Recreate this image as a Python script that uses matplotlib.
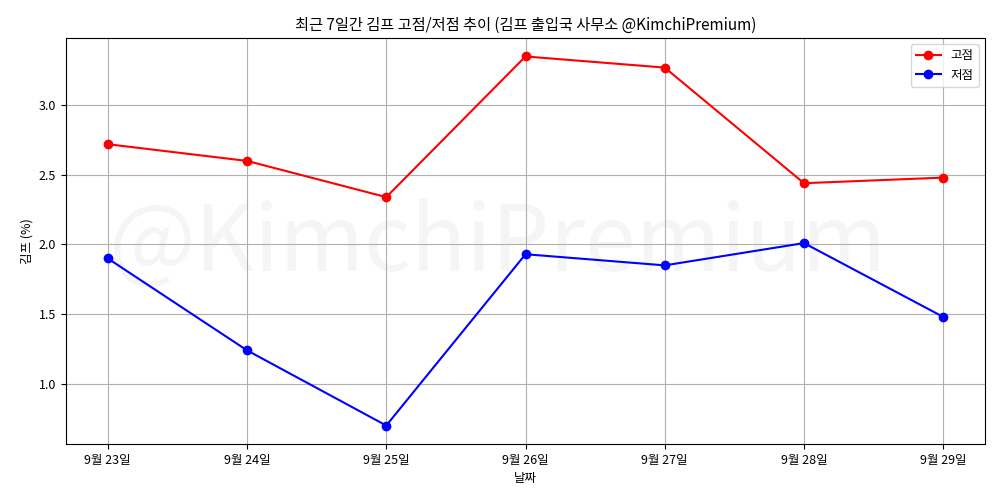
import matplotlib
matplotlib.use("Agg")
import matplotlib.pyplot as plt

plt.rcParams['font.family'] = 'Noto Sans CJK KR'
plt.rcParams['axes.unicode_minus'] = False

dates = ['9월 23일', '9월 24일', '9월 25일', '9월 26일', '9월 27일', '9월 28일', '9월 29일']
high = [2.72, 2.60, 2.34, 3.35, 3.27, 2.44, 2.48]
low = [1.90, 1.24, 0.70, 1.93, 1.85, 2.01, 1.48]

fig, ax = plt.subplots(figsize=(10, 5), dpi=100)
ax.plot(dates, high, color='red', marker='o', label='고점')
ax.plot(dates, low, color='blue', marker='o', label='저점')
ax.text(0.47, 0.49, '@KimchiPremium', transform=ax.transAxes, fontsize=66,
        fontweight='light', color='gray', alpha=0.08, ha='center', va='center', zorder=0)
ax.set_title('최근 7일간 김프 고점/저점 추이 (김프 출입국 사무소 @KimchiPremium)', fontsize=11)
ax.set_xlabel('날짜', fontsize=9)
ax.set_ylabel('김프 (%)', fontsize=9)
ax.tick_params(labelsize=9)
ax.grid(True)
ax.legend(loc='upper right', fontsize=9)
plt.subplots_adjust(left=0.066, right=0.985, top=0.924, bottom=0.112)
plt.savefig('out.png')
